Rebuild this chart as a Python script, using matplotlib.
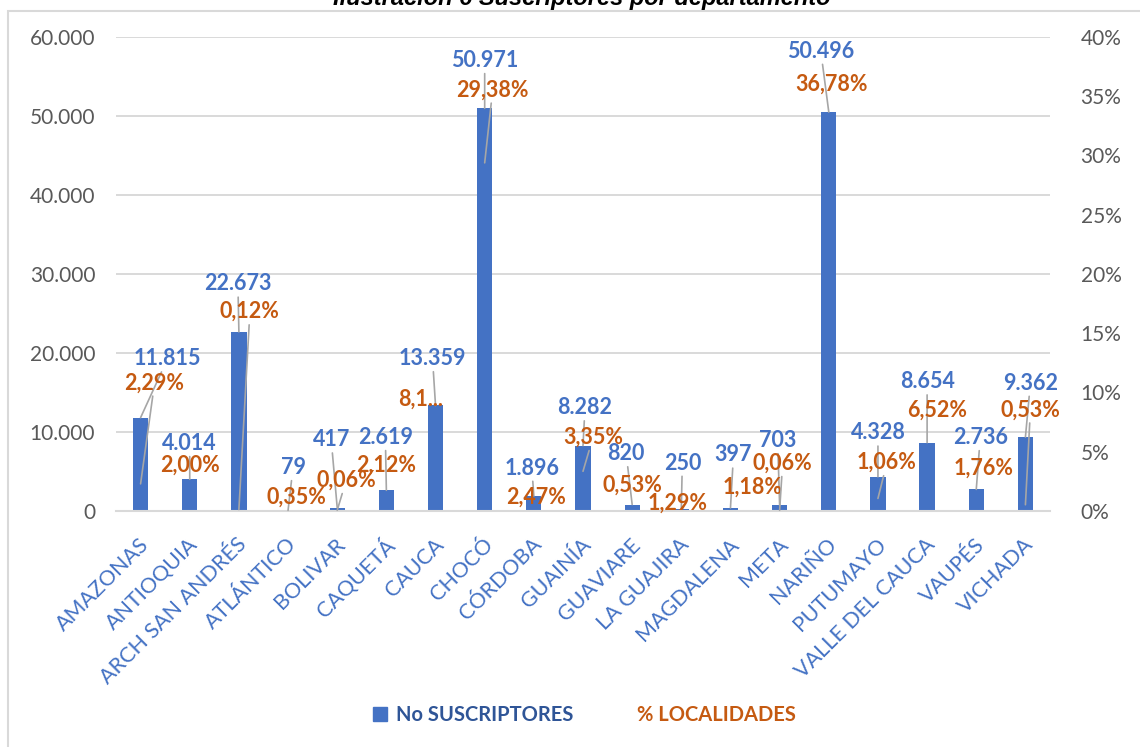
import numpy as np
import matplotlib
matplotlib.use("Agg")
import matplotlib.pyplot as plt
from matplotlib.patches import Patch, Rectangle
from matplotlib.lines import Line2D
from matplotlib.ticker import FuncFormatter
from matplotlib.transforms import ScaledTranslation

plt.rcParams['font.family'] = ['Lato', 'DejaVu Sans']

# datos
departamentos = ["AMAZONAS", "ANTIOQUIA", "ARCH SAN ANDRÉS", "ATLÁNTICO", "BOLIVAR",
                 "CAQUETÁ", "CAUCA", "CHOCÓ", "CÓRDOBA", "GUAINÍA", "GUAVIARE",
                 "LA GUAJIRA", "MAGDALENA", "META", "NARIÑO", "PUTUMAYO",
                 "VALLE DEL CAUCA", "VAUPÉS", "VICHADA"]
suscriptores = [11815, 4014, 22673, 79, 417, 2619, 13359, 50971, 1896, 8282,
                820, 250, 397, 703, 50496, 4328, 8654, 2736, 9362]
localidades = [2.29, 2.00, 0.12, 0.35, 0.06, 2.12, 8.15, 29.38, 2.47, 3.35,
               0.53, 1.29, 1.18, 0.06, 36.78, 1.06, 6.52, 1.76, 0.53]  # en %

# posicion de las etiquetas (pixeles respecto al punto) y si llevan linea guia
off_sus = [(27, 59), (0, 36), (-1, 48), (5, 43), (-6, 68), (-1, 53), (-3, 47),
           (0, 48), (-2, 28), (2, 38), (-6, 51), (1, 46), (3, 53), (-2, 65),
           (-8, 61), (0, 44), (0, 61), (4, 52), (5, 54)]
off_loc = [(14, 101), (0, 22), (11, 198), (8, 10), (9, 30), (0, 21), (-15, 15),
           (8, 73), (2, -15), (10, 34), (0, 20), (-4, -7), (22, 10), (3, 47),
           (3, -9), (9, 36), (10, 24), (7, 22), (5, 95)]
guia_loc = [1, 0, 1, 0, 1, 0, 0, 1, 0, 1, 0, 0, 0, 1, 0, 1, 0, 0, 1]

AZUL = "#4472C4"
NARANJA = "#C55A11"
GRIS = "#A6A6A6"

fig = plt.figure(figsize=(11.4, 7.47), dpi=100)
ax = fig.add_axes([116 / 1140, 1 - 511 / 747, (1050 - 116) / 1140, (511 - 37) / 747])
x = np.arange(len(departamentos))

ax.bar(x, suscriptores, width=0.31, color=AZUL, zorder=2)
ax.set_xlim(-0.5, len(departamentos) - 0.5)
ax.set_ylim(0, 60000)
ax.set_yticks(np.arange(0, 60001, 10000))
ax.yaxis.set_major_formatter(FuncFormatter(lambda v, p: f"{int(v):,}".replace(",", ".")))
ax.yaxis.grid(True, color="#D9D9D9", lw=1.4)
ax.set_axisbelow(True)
for s in ["top", "right", "left"]:
    ax.spines[s].set_visible(False)
ax.spines["bottom"].set_color("#D9D9D9")
ax.spines["bottom"].set_linewidth(1.5)
ax.tick_params(axis="y", length=0, pad=15, labelsize=15, labelcolor="#595959")
ax.tick_params(axis="x", length=0, pad=22)
ax.set_xticks(x)
ax.set_xticklabels(departamentos, rotation=45, ha="right", va="center",
                   rotation_mode="anchor", fontsize=15.5, color=AZUL)
desplaza = ScaledTranslation(5 / 100, 0, fig.dpi_scale_trans)
for lab in ax.get_xticklabels():
    lab.set_transform(lab.get_transform() + desplaza)

ax2 = ax.twinx()
ax2.set_ylim(0, 40)
ax2.set_yticks(np.arange(0, 41, 5))
ax2.yaxis.set_major_formatter(FuncFormatter(lambda v, p: f"{int(v)}%"))
ax2.tick_params(axis="y", length=0, pad=22, labelsize=15, labelcolor="#595959")
for s in ax2.spines.values():
    s.set_visible(False)

for i, v in enumerate(suscriptores):
    ax.annotate(f"{v:,}".replace(",", "."), xy=(i, v), xytext=off_sus[i],
                textcoords="offset pixels", ha="center", va="center",
                fontsize=15.5, fontweight="bold", color=AZUL,
                arrowprops=dict(arrowstyle="-", color=GRIS, lw=1.2, shrinkA=0, shrinkB=0))

for i, p in enumerate(localidades):
    txt = f"{p:.2f}".replace(".", ",") + "%"
    if departamentos[i] == "CAUCA":
        txt = "8,1..."
    props = None
    if guia_loc[i]:
        props = dict(arrowstyle="-", color=GRIS, lw=1.2, shrinkA=0, shrinkB=0)
    ax2.annotate(txt, xy=(i, p), xytext=off_loc[i], textcoords="offset pixels",
                 ha="center", va="center", fontsize=15.5, fontweight="bold",
                 color=NARANJA, arrowprops=props)

# leyenda
handles = [Patch(color=AZUL), Line2D([], [], color="none")]
fig.legend(handles, ["No SUSCRIPTORES", "% LOCALIDADES"], loc="center",
           bbox_to_anchor=(0.513, 0.043), ncol=2, frameon=False,
           handlelength=0.7, handleheight=0.7, handletextpad=0.4, columnspacing=2.1,
           prop=dict(weight="bold", size=14.5), labelcolor=["#2F5597", NARANJA])

# titulo (cortado arriba) y borde
fig.text(0.51, 1 - 5 / 747, "Ilustración 6 Suscriptores por departamento",
         ha="center", va="baseline", fontsize=17, fontweight="bold",
         fontstyle="italic", family="Liberation Sans")
fig.add_artist(Rectangle((8 / 1140, -0.1), 1.2, 1.1 - 11 / 747, transform=fig.transFigure,
                         fill=False, edgecolor="#D9D9D9", lw=1.5))

fig.savefig("out.png", dpi=100)
